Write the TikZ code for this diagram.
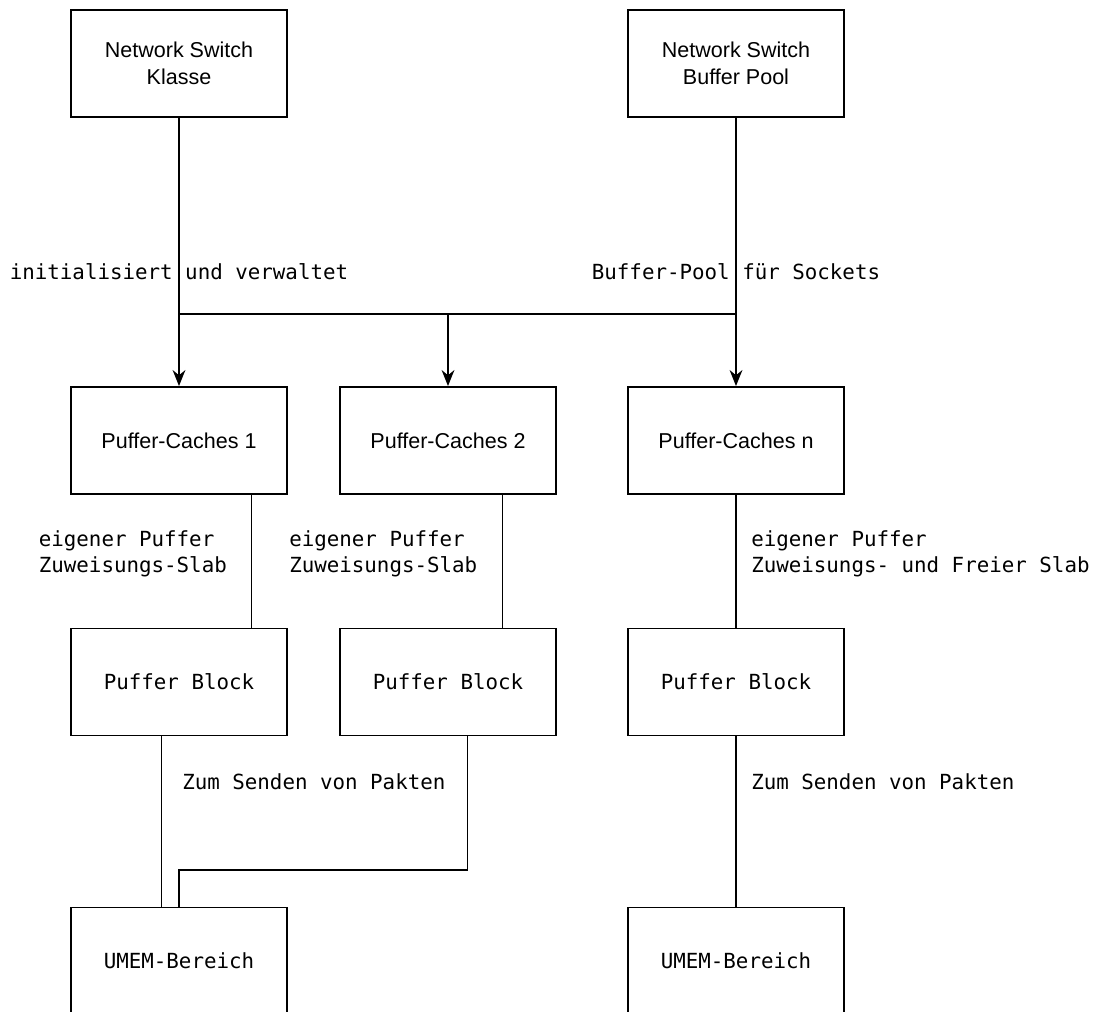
\documentclass[tikz,border=0pt]{standalone}
\usepackage{fontspec}
\setmainfont{Liberation Sans}
\newfontfamily\monofont{DejaVu Sans Mono}
\usepackage{tikz}
\usetikzlibrary{positioning,arrows.meta,calc}
\tikzset{
  box/.style={draw,line width=1.2pt,minimum width=5.4cm,minimum height=2.68cm,inner sep=0pt,align=center,font=\fontsize{15.3}{19}\selectfont},
  monobox/.style={box,font=\monofont\fontsize{14.8}{18.4}\selectfont},
  lbl/.style={inner sep=0pt,align=left,font=\monofont\fontsize{14.8}{18.4}\selectfont},
  wire/.style={line width=1.2pt},
  feed/.style={wire,-{Stealth[length=4mm,width=3.2mm,inset=1.3mm]}}
}

\begin{document}
\begin{tikzpicture}[x=0.025cm,y=-0.025cm]
\clip (0,0) rectangle (1094,1012);
\node[box] (nsk) at (179,63.5) {Network Switch\\Klasse};
\node[box] (nsb) at (736,63.5) {Network Switch\\Buffer Pool};
\foreach \n/\x in {1/179,2/448,n/736}{
  \node[box] (pc\n) at (\x,440.5) {Puffer-Caches \n};
  \node[monobox] (pb\n) at (\x,682) {Puffer Block};
}
\node[monobox] (um1) at (179,961) {UMEM-Bereich};
\node[monobox] (umn) at (736,961) {UMEM-Bereich};
% verteiler oben
\coordinate (split1) at (179,314);
\coordinate (split2) at (736,314);
\coordinate (jog) at (179,870);
\draw[feed] (nsk) -- (pc1);
\draw[feed] (nsb) -- (pcn);
\draw[wire] (split1) -- (split2);
\draw[feed] (pc2.north |- split1) -- (pc2);
\node[lbl] (init) at (179,272) {initialisiert und verwaltet};
\node[lbl] (pool) at (736,272) {Buffer-Pool für Sockets};
% caches -> bloecke
\draw[wire] ($(pc1.south west)!0.833!(pc1.south east)$) -- ($(pb1.north west)!0.833!(pb1.north east)$);
\draw[wire] ($(pc2.south west)!0.75!(pc2.south east)$) -- ($(pb2.north west)!0.75!(pb2.north east)$);
\draw[wire] (pcn) -- (pbn);
\node[lbl,anchor=west] (slab1) at (38.6,554) {eigener Puffer\\Zuweisungs-Slab};
\node[lbl,anchor=west] (slab2) at (289,554) {eigener Puffer\\Zuweisungs-Slab};
\node[lbl,anchor=west] (slabn) at (751,554) {eigener Puffer\\Zuweisungs- und Freier Slab};
% bloecke -> umem
\draw[wire] ($(pb1.south west)!0.42!(pb1.south east)$) -- ($(um1.north west)!0.42!(um1.north east)$);
\draw[wire] ($(pb2.south west)!0.59!(pb2.south east)$) |- (jog) -- (um1.north);
\draw[wire] (pbn) -- (umn);
\node[lbl,anchor=west] (send1) at (182,782) {Zum Senden von Pakten};
\node[lbl,anchor=west] (sendn) at (751,782) {Zum Senden von Pakten};
\end{tikzpicture}
\end{document}
